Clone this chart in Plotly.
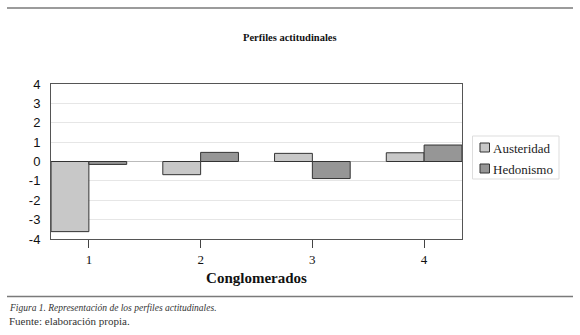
import plotly.graph_objects as go

categories = [1, 2, 3, 4]
tick_labels = ["1", "2", "3", "4"]
austeridad = [-3.62, -0.68, 0.42, 0.45]
hedonismo = [-0.15, 0.47, -0.88, 0.85]
y_ticks = [-4, -3, -2, -1, 0, 1, 2, 3, 4]
y_tick_labels = ["-4", "-3", "-2", "-1", "0", "1", "2", "3", "4"]
series_names = ["Austeridad", "Hedonismo"]
series_colors = ["#c8c8c8", "#969696"]

SERIF = "Liberation Serif, Times New Roman, serif"
SANS = "Liberation Sans, Arial, sans-serif"

W, H = 580, 335
L, R, T, B = 51, 118, 84, 96
PW, PH = W - L - R, H - T - B


def px(x):
    return (x - L) / PW


def py(y):
    return (H - B - y) / PH


fig = go.Figure()
for name, vals, col in zip(series_names, [austeridad, hedonismo], series_colors):
    fig.add_trace(go.Bar(x=categories, y=vals, name=name,
                         marker=dict(color=col, line=dict(color="#333333", width=1))))

fig.update_layout(
    width=W, height=H,
    margin=dict(l=L, r=R, t=T, b=B),
    paper_bgcolor="white", plot_bgcolor="white",
    barmode="group", bargap=0.323, bargroupgap=0,
    showlegend=False,
    xaxis=dict(range=[0.661, 4.339], tickmode="array", tickvals=categories,
               ticktext=tick_labels, ticks="outside", ticklen=8, tickcolor="#444",
               showgrid=False, zeroline=False,
               showline=True, linecolor="#555", mirror=True, linewidth=1,
               tickfont=dict(family=SERIF, size=13, color="#111"),
               title=dict(text="<b>Conglomerados</b>", standoff=6,
                          font=dict(family=SERIF, size=15, color="#111"))),
    yaxis=dict(range=[-4, 4], tickmode="array", tickvals=y_ticks,
               ticktext=y_tick_labels,
               ticks="", showgrid=True, gridcolor="#e6e6e6", gridwidth=1,
               zeroline=True, zerolinecolor="#bbbbbb", zerolinewidth=1,
               showline=True, linecolor="#555", mirror=True, linewidth=1,
               ticklabelstandoff=7,
               tickfont=dict(family=SANS, size=13, color="#111")),
)

# custom legend
fig.add_shape(type="rect", xref="paper", yref="paper",
              x0=px(472.5), x1=px(559), y0=py(136), y1=py(179),
              line=dict(color="#dddddd", width=1), fillcolor="white")
for i, (name, col) in enumerate(zip(series_names, series_colors)):
    yc = 148 + 21 * i
    fig.add_shape(type="rect", xref="paper", yref="paper",
                  x0=px(480), x1=px(489.5), y0=py(yc - 5), y1=py(yc + 4),
                  line=dict(color="#333333", width=1), fillcolor=col)
    fig.add_annotation(text=name, xref="paper", yref="paper",
                       x=px(491), y=py(yc), showarrow=False,
                       xanchor="left", yanchor="middle",
                       font=dict(family=SERIF, size=13, color="#222"))

fig.add_annotation(text="<b>Perfiles actitudinales</b>", xref="paper", yref="paper",
                   x=px(289.5), y=py(37), showarrow=False,
                   xanchor="center", yanchor="middle",
                   font=dict(family=SERIF, size=10.5, color="#111"))
fig.add_annotation(text="<i>Figura 1. Representación de los perfiles actitudinales.</i>",
                   xref="paper", yref="paper", x=px(7), y=py(308),
                   showarrow=False, xanchor="left", yanchor="middle",
                   font=dict(family=SERIF, size=9.5, color="#333"))
fig.add_annotation(text="Fuente: elaboración propia.",
                   xref="paper", yref="paper", x=px(7), y=py(321),
                   showarrow=False, xanchor="left", yanchor="middle",
                   font=dict(family=SERIF, size=11, color="#333"))

for yy in (8, 296.5):
    fig.add_shape(type="line", xref="paper", yref="paper",
                  x0=px(7), x1=px(573), y0=py(yy), y1=py(yy),
                  line=dict(color="#7a7a7a", width=1.3))

fig.write_html("out.html", config={"displayModeBar": False},
               post_script="document.body.style.margin='0';")
